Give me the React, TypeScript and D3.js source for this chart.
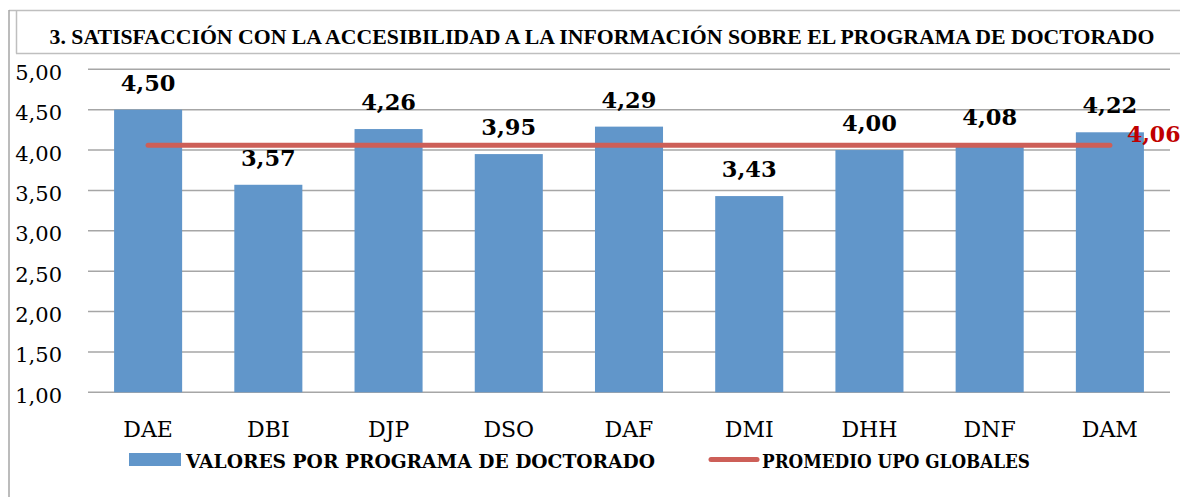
import React from "react";
import * as d3 from "d3";

const categories = ["DAE", "DBI", "DJP", "DSO", "DAF", "DMI", "DHH", "DNF", "DAM"];
const values = [4.5, 3.57, 4.26, 3.95, 4.29, 3.43, 4.0, 4.08, 4.22];
const average = 4.06;
const yTicks = [1, 1.5, 2, 2.5, 3, 3.5, 4, 4.5, 5];
const title = "3. SATISFACCIÓN CON LA ACCESIBILIDAD A LA INFORMACIÓN SOBRE EL PROGRAMA DE DOCTORADO";
const seriesBarName = "VALORES POR PROGRAMA DE DOCTORADO";
const seriesLineName = "PROMEDIO UPO GLOBALES";

const W = 1180;
const H = 497;
const FONT = "'DejaVu Serif', 'Liberation Serif', serif";
const TITLE_FONT = "'Liberation Serif', 'DejaVu Serif', serif";
const fmt = (v: number) => v.toFixed(2).replace(".", ",");

export default function App() {
  const x = d3
    .scaleBand<string>()
    .domain(categories)
    .range([88, 1170])
    .paddingInner(0.434)
    .paddingOuter(0.217);
  const y = d3.scaleLinear().domain([1, 5]).range([392.3, 69.3]);
  const cx = (c: string) => (x(c) as number) + x.bandwidth() / 2;

  const linePath = d3
    .line<string>()
    .x((c) => cx(c))
    .y(() => y(average))(categories) as string;

  return (
    <svg
      width={W}
      height={H}
      style={{ position: "absolute", left: 0, top: 0, display: "block" }}
      fontFamily={FONT}
    >
      <rect x={0} y={0} width={W} height={H} fill="#ffffff" />
      {/* outer frame */}
      <line x1={9} y1={10.5} x2={W} y2={10.5} stroke="#bfbfbf" strokeWidth={1.5} />
      <line x1={9} y1={10} x2={9} y2={H} stroke="#a6a6a6" strokeWidth={1.5} />
      {/* title box */}
      <line x1={16.5} y1={10} x2={16.5} y2={53.5} stroke="#bfbfbf" strokeWidth={1.5} />
      <line x1={16} y1={53.5} x2={W} y2={53.5} stroke="#bfbfbf" strokeWidth={1.5} />
      <text
        x={602}
        y={44}
        textAnchor="middle"
        fontFamily={TITLE_FONT}
        fontWeight="bold"
        fontSize={22}
        textLength={1105}
        lengthAdjust="spacingAndGlyphs"
        fill="#000"
      >
        {title}
      </text>

      {/* gridlines */}
      {yTicks.map((t) => (
        <line
          key={"g" + t}
          x1={88}
          x2={1170}
          y1={y(t)}
          y2={y(t)}
          stroke="#a6a6a6"
          strokeWidth={1.6}
        />
      ))}
      {/* y tick labels */}
      {yTicks.map((t) => (
        <text key={"t" + t} x={62} y={y(t) + 10.5} textAnchor="end" fontSize={21} fill="#000">
          {fmt(t)}
        </text>
      ))}

      {/* bars */}
      {categories.map((c, i) => (
        <rect
          key={"b" + c}
          x={x(c) as number}
          y={y(values[i])}
          width={x.bandwidth()}
          height={y(1) - y(values[i])}
          fill="#6196CA"
        />
      ))}

      {/* data labels */}
      {categories.map((c, i) => (
        <text
          key={"l" + c}
          x={cx(c)}
          y={y(values[i]) - 19}
          textAnchor="middle"
          fontWeight="bold"
          fontSize={22.5}
          fill="#000"
        >
          {fmt(values[i])}
        </text>
      ))}

      {/* average line */}
      <path d={linePath} fill="none" stroke="#CD5F58" strokeWidth={5} strokeLinecap="round" />
      <text
        x={cx(categories[categories.length - 1]) + 17}
        y={y(average) - 3}
        fontWeight="bold"
        fontSize={22}
        fill="#C00000"
      >
        {fmt(average)}
      </text>

      {/* category labels */}
      {categories.map((c) => (
        <text key={"c" + c} x={cx(c)} y={437} textAnchor="middle" fontSize={22} fill="#000">
          {c}
        </text>
      ))}

      {/* legend */}
      <rect x={129} y={453} width={52} height={13} fill="#6196CA" />
      <text
        x={186}
        y={468}
        fontWeight="bold"
        fontSize={18.5}
        textLength={469}
        lengthAdjust="spacingAndGlyphs"
        fill="#000"
      >
        {seriesBarName}
      </text>
      <line x1={711} x2={757} y1={459.5} y2={459.5} stroke="#CD5F58" strokeWidth={5} strokeLinecap="round" />
      <text
        x={762}
        y={468}
        fontWeight="bold"
        fontSize={18.5}
        textLength={268}
        lengthAdjust="spacingAndGlyphs"
        fill="#000"
      >
        {seriesLineName}
      </text>
    </svg>
  );
}
